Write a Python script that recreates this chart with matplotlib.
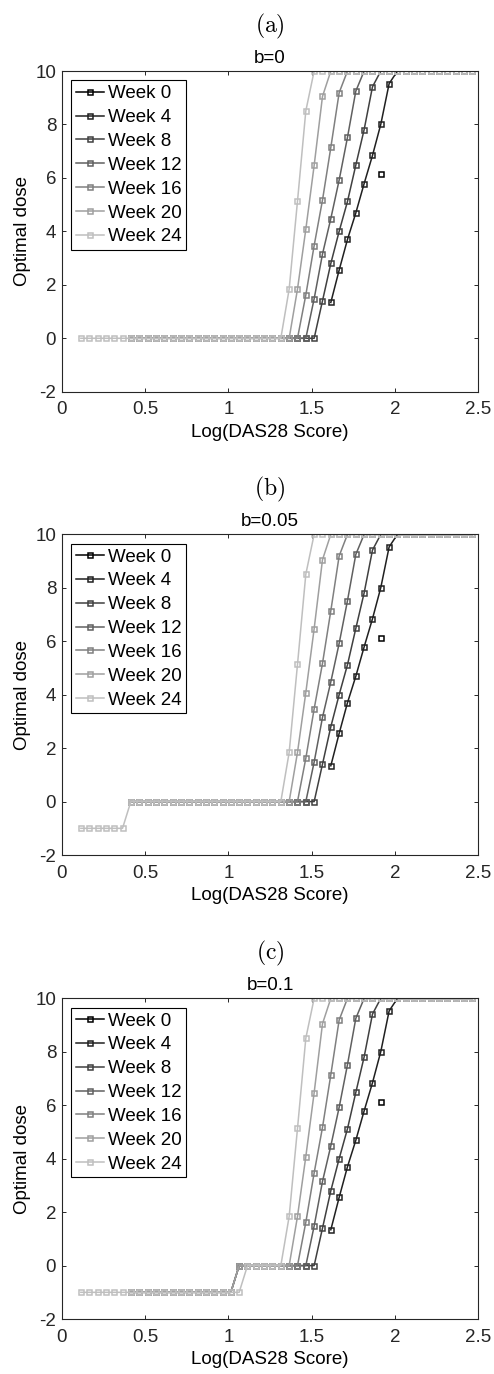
import matplotlib
matplotlib.use('Agg')
import matplotlib.pyplot as plt
import numpy as np

plt.rcParams['font.family'] = ['Liberation Sans', 'DejaVu Sans']
plt.rcParams['mathtext.fontset'] = 'cm'
plt.rcParams['axes.unicode_minus'] = False

nan = np.nan

# Log(DAS28 Score) grid, shared by every curve
x_das = [0.115, 0.165, 0.215, 0.265, 0.315, 0.365, 0.415, 0.465, 0.515, 0.565,
         0.615, 0.665, 0.715, 0.765, 0.815, 0.865, 0.915, 0.965, 1.015, 1.065,
         1.115, 1.165, 1.215, 1.265, 1.315, 1.365, 1.415, 1.465, 1.515, 1.565,
         1.615, 1.665, 1.715, 1.765, 1.815, 1.865, 1.915, 1.965, 2.015, 2.065,
         2.115, 2.165, 2.215, 2.265, 2.315, 2.365, 2.415, 2.465]

weeks = ['Week 0', 'Week 4', 'Week 8', 'Week 12', 'Week 16', 'Week 20', 'Week 24']
grays = [0.0, 0.125, 0.25, 0.375, 0.5, 0.625, 0.75]

# Week 0 is only observed at one point
week0_x = [1.915]
week0_y = [6.14]

# rising parts of the dose curves
rise_w4 = [1.34, 2.55, 3.70, 4.69, 5.79, 6.84, 8.01, 9.53]
rise_w8 = [1.40, 2.80, 4.00, 5.12, 6.48, 7.81, 9.41]
rise_w12 = [1.48, 3.15, 4.48, 5.92, 7.52, 9.25]
rise_w16 = [1.62, 3.47, 5.17, 7.14, 9.19]
rise_w20 = [1.84, 4.08, 6.47, 9.05]
rise_w24 = [1.84, 5.13, 8.51]

# b = 0
dose_a = [
    [nan] * 30 + rise_w4 + [10] * 10,
    [nan] * 6 + [0] * 23 + rise_w8 + [10] * 12,
    [nan] * 6 + [0] * 22 + rise_w12 + [10] * 14,
    [nan] * 6 + [0] * 21 + rise_w16 + [10] * 16,
    [nan] * 6 + [0] * 20 + rise_w20 + [10] * 18,
    [0] * 25 + rise_w24 + [10] * 20,
]

# b = 0.05
dose_b = [
    [nan] * 30 + rise_w4 + [10] * 10,
    [nan] * 6 + [0] * 23 + rise_w8 + [10] * 12,
    [nan] * 6 + [0] * 22 + rise_w12 + [10] * 14,
    [nan] * 6 + [0] * 21 + rise_w16 + [10] * 16,
    [nan] * 6 + [0] * 20 + rise_w20 + [10] * 18,
    [-1] * 6 + [0] * 19 + rise_w24 + [10] * 20,
]

# b = 0.1
dose_c = [
    [nan] * 30 + rise_w4 + [10] * 10,
    [nan] * 6 + [-1] * 13 + [0] * 10 + rise_w8 + [10] * 12,
    [nan] * 6 + [-1] * 13 + [0] * 9 + rise_w12 + [10] * 14,
    [nan] * 6 + [-1] * 13 + [0] * 8 + rise_w16 + [10] * 16,
    [nan] * 6 + [-1] * 13 + [0] * 7 + rise_w20 + [10] * 18,
    [-1] * 20 + [0] * 5 + rise_w24 + [10] * 20,
]

panels = [('(a)', 'b=0', dose_a), ('(b)', 'b=0.05', dose_b), ('(c)', 'b=0.1', dose_c)]
bottoms = [0.7149, 0.3777, 0.0400]

W, H = 494, 1374
fig = plt.figure(figsize = (W / 100, H / 100), dpi = 100)

axc = '#262626'
fs = 13.5
for (tag, ttl, dose), bot in zip(panels, bottoms):
    ax = fig.add_axes([0.1249, bot, 0.8433, 0.2334])
    kw = dict(marker = 's', markersize = 3.6, markerfacecolor = 'none', markeredgewidth = 1.1, linewidth = 1.1)
    ax.plot(week0_x, week0_y, color = str(grays[0]), label = weeks[0], **kw)
    for i, y in enumerate(dose):
        ax.plot(x_das, y, color = str(grays[i + 1]), label = weeks[i + 1], **kw)

    ax.set_xlim(0, 2.5)
    ax.set_ylim(-2, 10)
    ax.set_xticks([0, 0.5, 1, 1.5, 2, 2.5])
    ax.set_xticklabels(['0', '0.5', '1', '1.5', '2', '2.5'])
    ax.set_yticks([-2, 0, 2, 4, 6, 8, 10])
    ax.tick_params(direction = 'in', length = 3, width = 0.7, color = axc, labelcolor = axc,
                   labelsize = fs, top = True, right = True)
    ax.tick_params(axis = 'x', pad = 7)
    ax.tick_params(axis = 'y', pad = 4)
    for s in ax.spines.values():
        s.set_color(axc)
        s.set_linewidth(0.8)

    ax.set_xlabel('Log(DAS28 Score)', fontsize = fs, labelpad = 4)
    ax.set_ylabel('Optimal dose', fontsize = fs, labelpad = 3)
    ax.set_title(ttl, fontsize = fs, pad = 6)
    ax.text(0.5, 1.14, r'$\mathrm{' + tag + '}$', transform = ax.transAxes,
            ha = 'center', va = 'center', fontsize = 17)

    leg = ax.legend(loc = 'upper left', fontsize = fs, borderaxespad = 0.5, borderpad = 0.25,
                    labelspacing = 0.36, handlelength = 1.5, handletextpad = 0.2,
                    fancybox = False, framealpha = 1, edgecolor = 'black')
    leg.get_frame().set_linewidth(0.8)

fig.savefig('out.png', dpi = 100)
